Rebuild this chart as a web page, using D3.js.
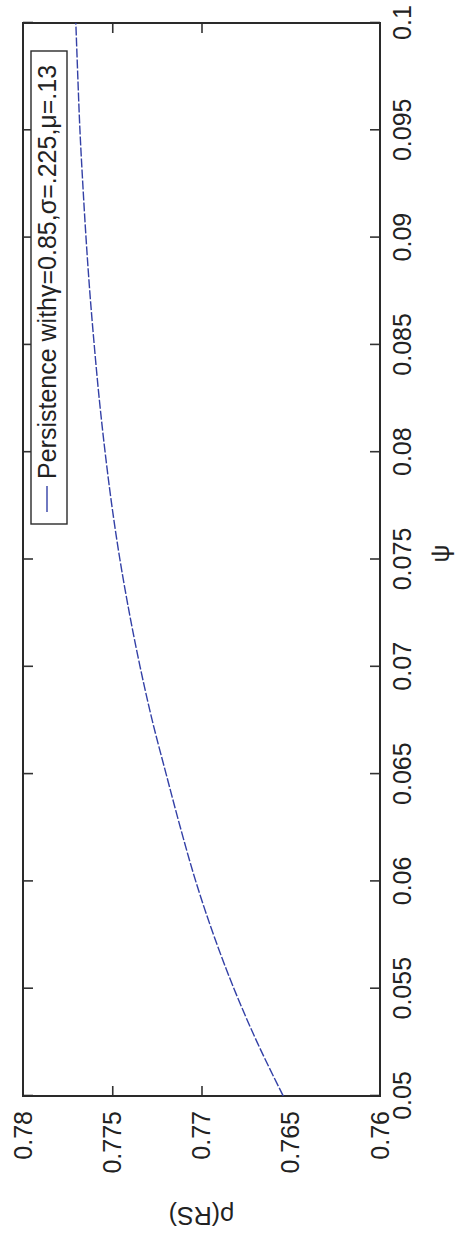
<!DOCTYPE html>
<html>
<head>
<meta charset="utf-8">
<script src="https://cdn.jsdelivr.net/npm/d3@7"></script>
<style>
  html, body { margin: 0; padding: 0; background: #fff; }
  svg { display: block; }
  text { font-family: "Liberation Sans", Arial, Helvetica, sans-serif; fill: #222; }
</style>
</head>
<body>
<script>
// Persistence ρ(RS) as a function of ψ
const psi = [0.05, 0.0525, 0.055, 0.0575, 0.06, 0.0625, 0.065, 0.0675, 0.07, 0.0725,
             0.075, 0.0775, 0.08, 0.0825, 0.085, 0.0875, 0.09, 0.0925, 0.095, 0.0975, 0.1];
const rho = [0.76542, 0.76688, 0.76818, 0.76932, 0.77032, 0.77118, 0.77198, 0.77276, 0.77344, 0.77404,
             0.77457, 0.77502, 0.77540, 0.77573, 0.77601, 0.77626, 0.77647, 0.77665, 0.77681, 0.77693, 0.77704];

const psiTicks = [0.05, 0.055, 0.06, 0.065, 0.07, 0.075, 0.08, 0.085, 0.09, 0.095, 0.1];
const rhoTickLabels = [0.78, 0.775, 0.77, 0.765, 0.76];
const rhoTickMarks = [0.775, 0.77];
const legendLabel = "Persistence with\u03B3=0.85,\u03C3=.225,\u03BC=.13";
const xTitle = "\u03C8";
const yTitle = "\u03C1(RS)";

const width = 456, height = 1242;
const W = 1073, H = 357;          // plot area in the chart's own frame
const fontSize = 25;

const svg = d3.select("body").append("svg")
  .attr("width", width).attr("height", height);

// The whole figure is laid on its side: ψ runs up the page, ρ runs across.
const g = svg.append("g").attr("transform", "translate(23,1096) rotate(-90)");

const x = d3.scaleLinear().domain([0.05, 0.1]).range([0, W]);
const y = d3.scaleLinear().domain([0.76, 0.78]).range([H, 0]);

const fmt = v => String(+v.toFixed(3));

// ψ axis: labels + inward ticks on the bottom edge
const xAxis = g.append("g").attr("transform", `translate(0,${H})`)
  .call(d3.axisBottom(x).tickValues(psiTicks).tickSizeInner(-10).tickSizeOuter(0)
        .tickPadding(13).tickFormat(fmt));
// ψ ticks on the top edge
const xAxisTop = g.append("g")
  .call(d3.axisTop(x).tickValues(psiTicks).tickSizeInner(-10).tickSizeOuter(0).tickFormat(""));

// ρ axis labels on the left edge
const yAxis = g.append("g")
  .call(d3.axisLeft(y).tickValues(rhoTickLabels).tickSize(0).tickPadding(15).tickFormat(fmt));
// ρ tick marks on left and right edges
const yMarksL = g.append("g")
  .call(d3.axisLeft(y).tickValues(rhoTickMarks).tickSizeInner(-10).tickSizeOuter(0).tickFormat(""));
const yMarksR = g.append("g").attr("transform", `translate(${W},0)`)
  .call(d3.axisRight(y).tickValues(rhoTickMarks).tickSizeInner(-10).tickSizeOuter(0).tickFormat(""));

[xAxis, xAxisTop, yAxis, yMarksL, yMarksR].forEach(a => {
  a.select(".domain").remove();
  a.selectAll(".tick line").attr("stroke", "#333").attr("stroke-width", 1.6);
  a.selectAll("text").attr("font-size", fontSize).attr("fill", "#333")
    .attr("font-family", "Liberation Sans, Arial, sans-serif");
});

// frame
g.append("rect")
  .attr("x", 0).attr("y", 0).attr("width", W).attr("height", H)
  .attr("fill", "none").attr("stroke", "#2a2a2a").attr("stroke-width", 2);

// data curve
const pts = psi.map((p, i) => [p, rho[i]]);
const line = d3.line().x(d => x(d[0])).y(d => y(d[1])).curve(d3.curveMonotoneX);
g.append("path")
  .datum(pts)
  .attr("d", line)
  .attr("fill", "none")
  .attr("stroke", "#3340a6")
  .attr("stroke-width", 1.4)
  .attr("stroke-dasharray", "9,2");

// axis titles
g.append("text")
  .attr("x", W / 2 + 6).attr("y", H + 69)
  .attr("text-anchor", "middle")
  .attr("font-size", fontSize)
  .text(xTitle);

g.append("text")
  .attr("transform", `translate(-111,${H / 2}) rotate(-90)`)
  .attr("text-anchor", "middle")
  .attr("font-size", fontSize)
  .text(yTitle);

// legend
const legend = g.append("g").attr("transform", "translate(572,8)");
legend.append("rect")
  .attr("width", 473).attr("height", 36)
  .attr("fill", "#fff").attr("stroke", "#2a2a2a").attr("stroke-width", 1.4);
legend.append("line")
  .attr("x1", 12).attr("x2", 38).attr("y1", 16).attr("y2", 16)
  .attr("stroke", "#3340a6").attr("stroke-width", 1.4);
legend.append("text")
  .attr("x", 45).attr("y", 16)
  .attr("dy", "0.35em")
  .attr("font-size", fontSize)
  .text(legendLabel);
</script>
</body>
</html>
